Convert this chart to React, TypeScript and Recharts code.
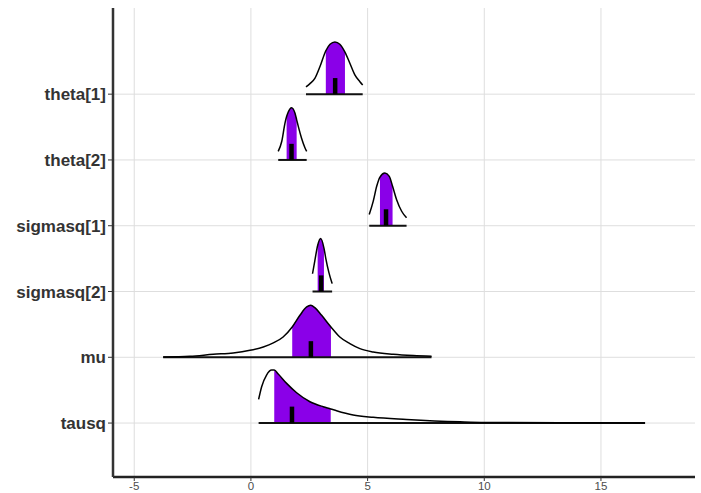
import React from 'react';
import { ComposedChart, Area, Line, XAxis, YAxis, CartesianGrid, ReferenceLine } from 'recharts';

// parameter names, top to bottom, and their row position on the y scale
const params = ['theta[1]', 'theta[2]', 'sigmasq[1]', 'sigmasq[2]', 'mu', 'tausq'];
const rowPos = [6, 5, 4, 3, 2, 1];
const xTicks = [-5, 0, 5, 10, 15];

// density outlines (x value, height in row units)
const theta1X = [2.36, 2.53, 2.74, 2.96, 3.21, 3.39, 3.6, 3.81, 4.03, 4.24, 4.46, 4.67, 4.79];
const theta1H = [0.11, 0.16, 0.24, 0.42, 0.66, 0.76, 0.795, 0.76, 0.64, 0.47, 0.29, 0.19, 0.14];

const theta2X = [1.17, 1.32, 1.46, 1.53, 1.6, 1.74, 1.89, 1.96, 2.03, 2.17, 2.31, 2.39];
const theta2H = [0.13, 0.28, 0.56, 0.66, 0.73, 0.795, 0.71, 0.61, 0.51, 0.33, 0.19, 0.13];

const sigmasq1X = [5.07, 5.24, 5.39, 5.53, 5.74, 5.93, 6.07, 6.24, 6.46, 6.67];
const sigmasq1H = [0.17, 0.37, 0.6, 0.74, 0.8, 0.75, 0.6, 0.4, 0.22, 0.12];

const sigmasq2X = [2.64, 2.74, 2.86, 2.99, 3.13, 3.21, 3.34, 3.48];
const sigmasq2H = [0.27, 0.47, 0.7, 0.805, 0.66, 0.5, 0.29, 0.12];

const muX = [-3.76, -2.61, -1.61, -0.76, -0.04, 0.53, 0.96, 1.38, 1.77, 2.1, 2.39, 2.56, 2.74, 3.03, 3.43, 3.81, 4.24, 4.67, 5.24, 6.1, 6.96, 7.74];
const muH = [0.005, 0.015, 0.046, 0.066, 0.106, 0.157, 0.218, 0.309, 0.461, 0.638, 0.765, 0.79, 0.755, 0.638, 0.461, 0.309, 0.208, 0.132, 0.081, 0.046, 0.026, 0.015];

const tausqX = [0.33, 0.46, 0.67, 0.89, 1.0, 1.17, 1.53, 1.96, 2.53, 3.1, 3.42, 3.67, 4.38, 5.24, 6.67, 8.96, 10.03, 13.24, 16.89];
const tausqH = [0.36, 0.553, 0.73, 0.805, 0.805, 0.745, 0.603, 0.461, 0.324, 0.248, 0.215, 0.187, 0.122, 0.087, 0.056, 0.02, 0.01, 0.005, 0.0];

// 50% interval bounds, medians and median bar heights
const intervalLo = [3.21, 1.53, 5.53, 2.86, 1.77, 1.0];
const intervalHi = [4.03, 1.96, 6.07, 3.13, 3.43, 3.42];
const medians = [3.61, 1.74, 5.79, 3.01, 2.57, 1.76];
const medianBarH = [0.245, 0.245, 0.25, 0.245, 0.245, 0.25];

const densX = [theta1X, theta2X, sigmasq1X, sigmasq2X, muX, tausqX];
const densH = [theta1H, theta2H, sigmasq1H, sigmasq2H, muH, tausqH];

const rows = params.map((name, i) => {
  const base = rowPos[i];
  const pts = densX[i].map((x, j) => ({ x, h: densH[i][j] }));
  const outline = pts.map((p) => ({ x: p.x, y: base + p.h }));
  const band = pts
    .filter((p) => p.x >= intervalLo[i] && p.x <= intervalHi[i])
    .map((p) => ({ x: p.x, r: [base, base + p.h] }));
  const xs = densX[i];
  const baseline = [
    { x: xs[0], y: base },
    { x: xs[xs.length - 1], y: base },
  ];
  return { name, base, outline, band, baseline };
});

const font = '"Liberation Sans", Arial, Helvetica, sans-serif';

export default function App() {
  return (
    <div style={{ position: 'absolute', left: 0, top: 0, width: 701, height: 493, background: '#fff', fontFamily: font }}>
      <ComposedChart width={701} height={493} margin={{ top: 8, right: 6, bottom: 0, left: 0 }}>
        <CartesianGrid stroke="#dedede" strokeWidth={1} syncWithTicks />
        <XAxis
          type="number"
          dataKey="x"
          domain={[-5.91, 19.03]}
          ticks={xTicks}
          allowDataOverflow
          height={16}
          axisLine={{ stroke: '#222', strokeWidth: 2.5 }}
          tickLine={{ stroke: '#333' }}
          tickSize={4}
          tickMargin={1}
          tick={{ fill: '#4d4d4d', fontSize: 11.5, fontFamily: font }}
        />
        <YAxis
          type="number"
          domain={[0.18, 7.31]}
          ticks={rowPos}
          allowDataOverflow
          width={113}
          axisLine={{ stroke: '#333', strokeWidth: 2.5 }}
          tickLine={{ stroke: '#333' }}
          tickSize={5}
          tickMargin={2}
          tickFormatter={(v: number) => params[6 - v]}
          tick={{ fill: '#333', fontSize: 17, fontWeight: 'bold', fontFamily: font }}
        />
        {rows.map((r) => (
          <Area
            key={'band-' + r.name}
            data={r.band}
            dataKey="r"
            type="monotone"
            fill="#8a00e8"
            fillOpacity={1}
            stroke="none"
            isAnimationActive={false}
          />
        ))}
        {rows.map((r) => (
          <Line
            key={'base-' + r.name}
            data={r.baseline}
            dataKey="y"
            stroke="#111"
            strokeWidth={2}
            dot={false}
            activeDot={false}
            isAnimationActive={false}
          />
        ))}
        {rows.map((r) => (
          <Line
            key={'dens-' + r.name}
            data={r.outline}
            dataKey="y"
            type="monotone"
            stroke="#000"
            strokeWidth={1.5}
            dot={false}
            activeDot={false}
            isAnimationActive={false}
          />
        ))}
        {rows.map((r, i) => (
          <ReferenceLine
            key={'med-' + r.name}
            segment={[
              { x: medians[i], y: r.base },
              { x: medians[i], y: r.base + medianBarH[i] },
            ]}
            stroke="#000"
            strokeWidth={4.5}
          />
        ))}
      </ComposedChart>
    </div>
  );
}
